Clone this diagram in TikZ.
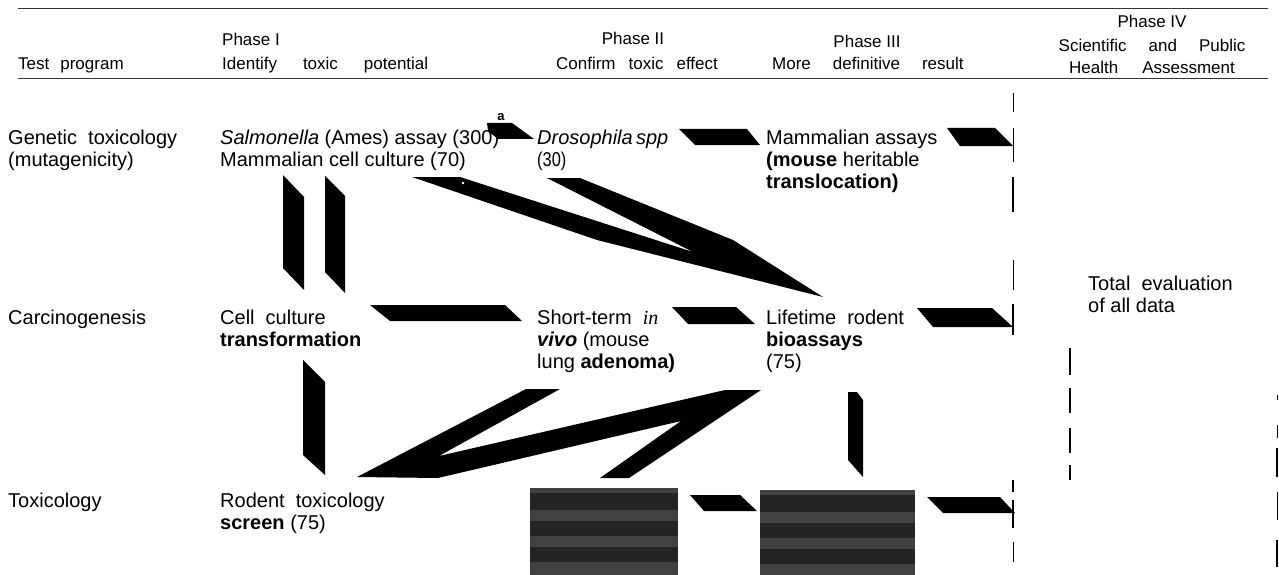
\documentclass[tikz,border=0pt]{standalone}
\usepackage{fontspec}
\setmainfont{Liberation Sans}
\newfontfamily\serifit{Liberation Serif}
\newcommand\gp[1]{\hspace{#1pt}}
\begin{document}
\begin{tikzpicture}[x=1pt,y=-1pt,
  body/.style={anchor=base west,inner sep=0pt,font=\fontsize{20}{22}\selectfont},
  head/.style={anchor=base,inner sep=0pt,font=\fontsize{17}{20}\selectfont},
  headw/.style={head,anchor=base west},
  blob/.style={fill=black},
  noise/.style={fill=black!74},
  noiseband/.style={fill=black!86},
  rule/.style={line width=0.9pt,draw=black!80},
  tbar/.style={line width=0.9pt},
  mbar/.style={line width=1.7pt},
  kbar/.style={line width=2.7pt}]
\useasboundingbox (0,0) rectangle (1279,575);

% header rules
\coordinate (r1a) at (18,8);  \coordinate (r1b) at (1268,8);
\coordinate (r2a) at (18,78); \coordinate (r2b) at (1268,78);
\draw[rule] (r1a) -- (r1b);
\draw[rule] (r2a) -- (r2b);

% header texts
\node[headw] (h0)  at (18,70)  {Test\gp{11}program};
\node[headw] (h1a) at (222,46) {Phase I};
\node[headw] (h1b) at (222,70) {Identify\gp{26}toxic\gp{26}potential};
\node[head]  (h2a) at (633,45) {Phase II};
\node[head]  (h2b) at (637,70) {Confirm\gp{13}toxic\gp{13}effect};
\node[head]  (h3a) at (867,48) {Phase III};
\node[headw] (h3b) at (772,70) {More\gp{22}definitive\gp{22}result};
\node[head]  (h4a) at (1152,28) {Phase IV};
\node[head]  (h4b) at (1152,52) {Scientific\gp{22}and\gp{22}Public};
\node[head]  (h4c) at (1152,74) {Health\gp{24}Assessment};

% row labels
\node[body] (l1a) at (8,144) {Genetic\ \ toxicology};
\node[body] (l1b) at (8,166) {(mutagenicity)};
\node[body] (l2)  at (8,324) {Carcinogenesis};
\node[body] (l3)  at (8,507) {Toxicology};

% row 1
\node[body] (p1a) at (220,144) {\textit{Salmonella} (Ames) assay (300)};
\node[body] (p1b) at (220,166) {Mammalian cell culture (70)};
\node[body] (q1a) at (537,144) {\textit{Drosophila\,spp}};
\node[body] (q1b) at (537,166) {\scalebox{0.82}[1]{(30)}};
\node[body] (m1a) at (766,144) {Mammalian assays};
\node[body] (m1b) at (766,166) {\textbf{(mouse} heritable};
\node[body] (m1c) at (766,188) {\textbf{translocation)}};

% row 2
\node[body] (p2a) at (220,324) {Cell\ \ culture};
\node[body] (p2b) at (220,346) {\textbf{transformation}};
\node[body] (q2a) at (537,324) {Short-term\ \ {\serifit\itshape in}};
\node[body] (q2b) at (537,346) {\textbf{\textit{vivo}} (mouse};
\node[body] (q2c) at (537,368) {lung \textbf{adenoma)}};
\node[body] (m2a) at (766,324) {Lifetime\ \ rodent};
\node[body] (m2b) at (766,346) {\textbf{bioassays}};
\node[body] (m2c) at (766,368) {(75)};

% row 3
\node[body] (p3a) at (220,507) {Rodent\ \ toxicology};
\node[body] (p3b) at (220,529) {\textbf{screen} (75)};

% phase IV
\node[body] (t1) at (1088,290) {Total\ \ evaluation};
\node[body] (t2) at (1088,312) {of all data};

% noisy (illegible) blocks
\fill[noise] (530,488) rectangle (678,575);
\fill[noiseband] (530,493) rectangle (678,510);
\fill[noiseband] (530,521) rectangle (678,536);
\fill[noiseband] (530,547) rectangle (678,562);
\fill[noise] (760,490) rectangle (915,575);
\fill[noiseband] (760,495) rectangle (915,512);
\fill[noiseband] (760,523) rectangle (915,538);
\fill[noiseband] (760,549) rectangle (915,564);

% row 1 arrows
\fill[blob] (487,123) -- (512,123) -- (534,139) -- (498,139) -- (488,131) -- cycle;
\node[inner sep=0pt,font=\bfseries\fontsize{13}{13}\selectfont] (sup) at (501,117) {a};
\fill[blob] (679,129) -- (747,129) -- (760,145) -- (695,145) -- cycle;
\fill[blob] (947,128) -- (995,128) -- (1013,146) -- (960,146) -- cycle;

% verticals below row 1
\fill[blob] (283,175) -- (304,197) -- (304,290) -- (283,268) -- cycle;
\fill[blob] (325,176) -- (345,196) -- (345,293) -- (325,272) -- cycle;

% big diagonal wedge
\fill[blob] (412,177) -- (460,177) -- (693,252) -- (547,178) -- (580,178)
  -- (733,240) -- (823,297) -- (597,240) -- cycle;
\fill[white] (463,183) circle (1.3);

% row 2 arrows
\fill[blob] (370,305) -- (505,305) -- (522,321) -- (390,321) -- cycle;
\fill[blob] (672,307) -- (736,307) -- (755,324) -- (688,324) -- cycle;
\fill[blob] (917,308) -- (992,308) -- (1013,327) -- (933,327) -- cycle;

% verticals below row 2
\fill[blob] (303,360) -- (325,382) -- (325,475) -- (303,455) -- cycle;
\fill[blob] (848,392) -- (857,392) -- (863,400) -- (863,477) -- (848,460) -- cycle;

% Z shape
\fill[blob] (357,477) -- (526,389) -- (560,389) -- (439,456) -- (725,390) -- (761,390)
  -- (629,478) -- (600,478) -- (681,421) -- (438,478) -- cycle;

% row 3 arrows
\fill[blob] (690,495) -- (740,495) -- (757,511) -- (704,511) -- cycle;
\fill[blob] (927,497) -- (1000,497) -- (1015,513) -- (943,513) -- cycle;

% dashed separator bars
\draw[tbar] (1013,93) -- (1013,112);
\draw[tbar] (1013,128) -- (1013,162);
\draw[kbar] (1013,177) -- (1013,212);
\draw[tbar] (1013,260) -- (1013,290);
\draw[mbar] (1013,304) -- (1013,335);
\draw[kbar] (1013,480) -- (1013,492);
\draw[mbar] (1013,500) -- (1013,528);
\draw[tbar] (1013,542) -- (1013,562);
\draw[kbar] (1070,348) -- (1070,375);
\draw[kbar] (1070,388) -- (1070,413);
\draw[kbar] (1070,428) -- (1070,453);
\draw[mbar] (1070,465) -- (1070,480);
\draw[tbar] (1277,395) -- (1277,400);
\draw[tbar] (1277,425) -- (1277,438);
\draw[kbar] (1277,448) -- (1277,477);
\draw[tbar] (1277,492) -- (1277,520);
\draw[kbar] (1277,540) -- (1277,567);
\end{tikzpicture}
\end{document}
